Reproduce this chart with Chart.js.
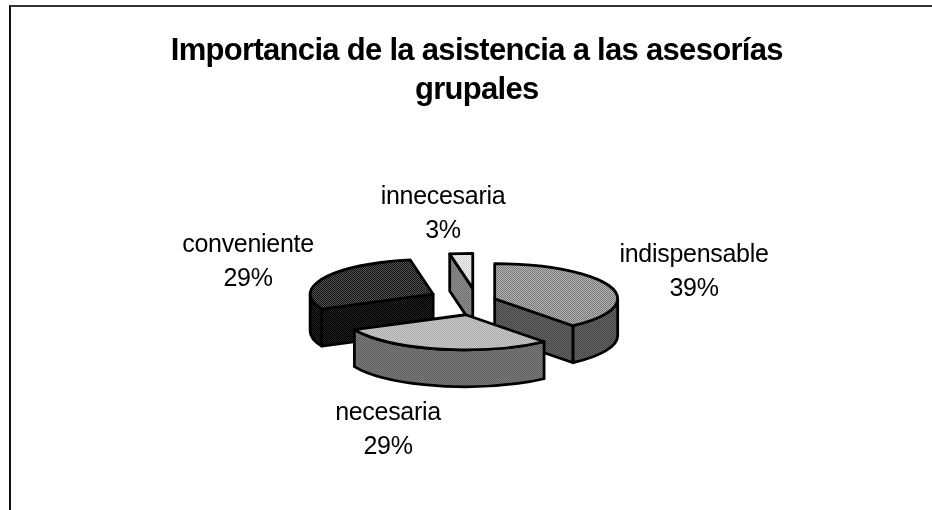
<!DOCTYPE html>
<html>
<head>
<meta charset="utf-8">
<title>Importancia de la asistencia</title>
<script src="https://cdn.jsdelivr.net/npm/chart.js@4"></script>
<style>
    html, body { margin: 0; padding: 0; background: #fff; overflow: hidden; }
    #frame { position: absolute; left: 9px; top: 5px; right: 0; bottom: 0; border-left: 2px solid #111; border-top: 2px solid #333; }
    #chart { position: absolute; left: 0; top: 0; }
</style>
</head>
<body>
<div id="frame"></div>
<canvas id="chart" width="932" height="510"></canvas>
<script>
const titleLines = ['Importancia de la asistencia a las asesorías', 'grupales'];
const categories = ['indispensable', 'necesaria', 'conveniente', 'innecesaria'];
const percents = [39, 29, 29, 3];

// how far each slice was pulled out of the pie
const sliceOffsets = [19, 51, 49, 43];
// [top light, top dark, side light, side dark]
const sliceColors = [
    ['#b4b4b4', '#787878', '#666666', '#444444'],
    ['#cccccc', '#a8a8a8', '#787878', '#626262'],
    ['#555555', '#101010', '#222222', '#000000'],
    ['#f0f0f0', '#d0d0d0', '#8a8a8a', '#747474']
];
const labelCenters = [[694, 270], [388, 428], [248, 260], [443, 212]];
const drawOrder = [3, 2, 0, 1];
const squash = 0.285;
const depth = 37;

function checker(light, dark) {
    const c = document.createElement('canvas');
    c.width = c.height = 2;
    const g = c.getContext('2d');
    g.fillStyle = light;
    g.fillRect(0, 0, 2, 2);
    g.fillStyle = dark;
    g.fillRect(0, 0, 1, 1);
    g.fillRect(1, 1, 1, 1);
    return g.createPattern(c, 'repeat');
}

function paintFace(ctx, fill) {
    ctx.closePath();
    ctx.fillStyle = fill;
    ctx.fill();
    ctx.stroke();
}

function drawSlice(ctx, arc, offset, colors) {
    const { x, y, startAngle, endAngle, outerRadius } = arc.getProps(['x', 'y', 'startAngle', 'endAngle', 'outerRadius']);
    const mid = (startAngle + endAngle) / 2;
    const rx = outerRadius;
    const ry = outerRadius * squash;
    const cx = x + Math.cos(mid) * offset;
    const cy = y + Math.sin(mid) * offset * squash;
    const top = checker(colors[0], colors[1]);
    const side = checker(colors[2], colors[3]);

    const wall = (angle) => {
        const px = cx + Math.cos(angle) * rx;
        const py = cy + Math.sin(angle) * ry;
        ctx.beginPath();
        ctx.moveTo(cx, cy);
        ctx.lineTo(px, py);
        ctx.lineTo(px, py + depth);
        ctx.lineTo(cx, cy + depth);
        paintFace(ctx, side);
    };

    // only the walls turned towards the viewer
    if (Math.cos(startAngle) < -0.001) wall(startAngle);
    if (Math.cos(endAngle) > 0.001) wall(endAngle);

    const from = Math.max(startAngle, 0);
    const to = Math.min(endAngle, Math.PI);
    if (to > from) {
        ctx.beginPath();
        ctx.ellipse(cx, cy, rx, ry, 0, from, to);
        ctx.ellipse(cx, cy + depth, rx, ry, 0, to, from, true);
        paintFace(ctx, side);
    }

    ctx.beginPath();
    ctx.moveTo(cx, cy);
    ctx.ellipse(cx, cy, rx, ry, 0, startAngle, endAngle);
    paintFace(ctx, top);
}

const tiltedPie = {
    id: 'tiltedPie',
    beforeDraw(chart) {
        // title is set tight, Chart.js has no option for it
        chart.ctx.letterSpacing = '-0.7px';
    },
    beforeDatasetDraw(chart, args) {
        const ctx = chart.ctx;
        const arcs = args.meta.data;
        ctx.save();
        ctx.letterSpacing = '0px';
        ctx.strokeStyle = '#000';
        ctx.lineWidth = 2.8;
        ctx.lineJoin = 'round';
        drawOrder.forEach(i => drawSlice(ctx, arcs[i], arcs[i].options.offset, sliceColors[i]));
        ctx.restore();
        return false;
    },
    afterDraw(chart) {
        const ctx = chart.ctx;
        ctx.save();
        ctx.fillStyle = '#000';
        ctx.font = '25px "Liberation Sans"';
        ctx.letterSpacing = '-0.3px';
        ctx.textAlign = 'center';
        ctx.textBaseline = 'alphabetic';
        categories.forEach((name, i) => {
            const [x, y] = labelCenters[i];
            ctx.fillText(name, x, y - 8.5);
            ctx.fillText(percents[i] + '%', x, y + 25.5);
        });
        ctx.restore();
    }
};

new Chart(document.getElementById('chart'), {
    type: 'pie',
    data: {
        labels: categories,
        datasets: [{
            data: percents,
            offset: sliceOffsets,
            borderWidth: 0
        }]
    },
    options: {
        responsive: false,
        animation: false,
        radius: 123,
        layout: { padding: { left: 21.6, right: 0, top: 0, bottom: 27 } },
        plugins: {
            legend: { display: false },
            tooltip: { enabled: false },
            title: {
                display: true,
                text: titleLines,
                color: '#000',
                font: { family: '"Liberation Sans"', size: 31, weight: 'bold', lineHeight: 1.26 },
                padding: { top: 32, bottom: 8 }
            }
        }
    },
    plugins: [tiltedPie]
});
</script>
</body>
</html>
